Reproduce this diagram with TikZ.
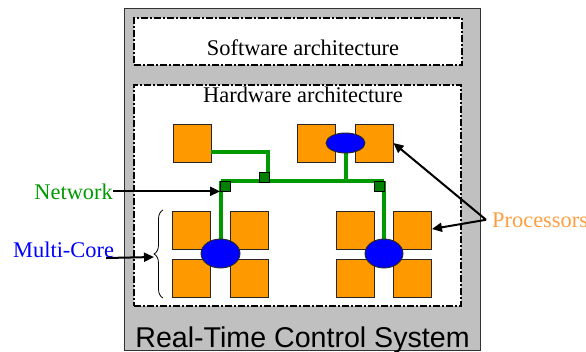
\documentclass[tikz,border=0pt]{standalone}
\usepackage{fontspec}
\setmainfont{Liberation Serif}
\newfontfamily\arialfont{Liberation Sans}
\usetikzlibrary{shapes.geometric,arrows.meta,decorations.pathreplacing}
\definecolor{procorange}{RGB}{255,153,0}
\definecolor{proctext}{RGB}{255,158,64}
\definecolor{netgreen}{RGB}{0,153,0}
\definecolor{juncgreen}{RGB}{0,128,0}
\definecolor{sysgray}{RGB}{192,192,192}
\definecolor{edgegray}{RGB}{50,50,50}
\tikzset{
  sysbox/.style={draw=edgegray,line width=1pt,fill=sysgray,inner sep=0,minimum width=356pt,minimum height=342pt},
  archbox/.style={draw=black,fill=white,line width=1.8pt,dash pattern=on 7pt off 2pt on 2pt off 2pt,inner sep=0},
  proc/.style={draw=black!85,fill=procorange,line width=0.9pt,inner sep=0,minimum size=38pt},
  busnode/.style={ellipse,draw=black!85,fill=blue,line width=0.9pt,inner sep=0},
  junc/.style={draw=black,fill=juncgreen,line width=0.8pt,inner sep=0,minimum size=10pt},
  net/.style={netgreen,line width=4pt},
  arr/.style={black,line width=2pt,-{Triangle[length=10pt,width=9pt]}},
  lbl/.style={font=\fontsize{22.4}{24}\selectfont,inner sep=0},
}
\begin{document}
\begin{tikzpicture}[x=1pt,y=-1pt]
\useasboundingbox (0,0) rectangle (586,351);
% system box
\node[sysbox] (sys) at (302,179) {};
\node[archbox,minimum width=328pt,minimum height=47pt] (sw) at (298,41.5) {};
\node[archbox,minimum width=327pt,minimum height=221pt] (hw) at (297.5,195.5) {};
\node[lbl,anchor=base] (swt) at (303,55) {Software architecture};
\node[lbl,anchor=base] (hwt) at (303,102) {Hardware architecture};
\node[inner sep=0,anchor=base,font=\arialfont\fontsize{28.6}{30}\selectfont] (rt) at (302.5,347) {Real-Time Control System};
% processors
\node[proc] (p0) at (192,143) {};
\node[proc] (p1) at (316.5,143) {};
\node[proc] (p2) at (374,143) {};
\node[proc] (a1) at (191.5,230) {};
\node[proc] (a2) at (249.5,230) {};
\node[proc] (a3) at (191.5,278) {};
\node[proc] (a4) at (249.5,278) {};
\node[proc] (b1) at (355,230) {};
\node[proc] (b2) at (412.5,230) {};
\node[proc] (b3) at (355,278) {};
\node[proc] (b4) at (412.5,278) {};
% network
\coordinate (jt) at (268,181);
\coordinate (bl) at (220.5,181);
\coordinate (br) at (384,181);
\coordinate (bm) at (345.5,181);
\draw[net] ([yshift=-9pt]p0.east) -| (jt);
\draw[net] (bl) -- (br);
\draw[net] (bl) -- (220.5,245);
\draw[net] (br) -- (384,245);
\draw[net] (345.5,145) -- (bm);
% buses
\node[busnode,minimum width=39pt,minimum height=20pt] (e0) at (345.5,143) {};
\node[busnode,minimum width=39pt,minimum height=29pt] (e1) at (220.5,253.5) {};
\node[busnode,minimum width=38pt,minimum height=29pt] (e2) at (384,253.5) {};
% junctions
\node[junc] (j1) at (264,177) {};
\node[junc] (j2) at (225.5,186.5) {};
\node[junc] (j3) at (379,186.5) {};
% brace
\coordinate (brb) at (163,298);
\coordinate (brt) at (163,210);
\draw[line width=0.8pt,decorate,decoration={brace,amplitude=9pt}] (brb) -- (brt);
\coordinate (brtip) at (154,257);
% labels
\node[lbl,anchor=base east,text=netgreen] (netl) at (113,199) {Network};
\node[lbl,anchor=base west,text=blue] (mcl) at (13,257) {Multi-Core};
\node[lbl,anchor=base west,text=proctext] (procl) at (492,227) {Processors};
% arrows
\draw[arr] (netl.east) -- (netl.east -| j2.west);
\draw[arr] ([xshift=-8pt,yshift=-1pt]mcl.base east) -- (brtip);
\draw[arr] ([xshift=-6pt]procl.west) -- (p2.east);
\draw[arr] ([xshift=-6pt]procl.west) -- ([yshift=1pt]b2.east);
\end{tikzpicture}
\end{document}
